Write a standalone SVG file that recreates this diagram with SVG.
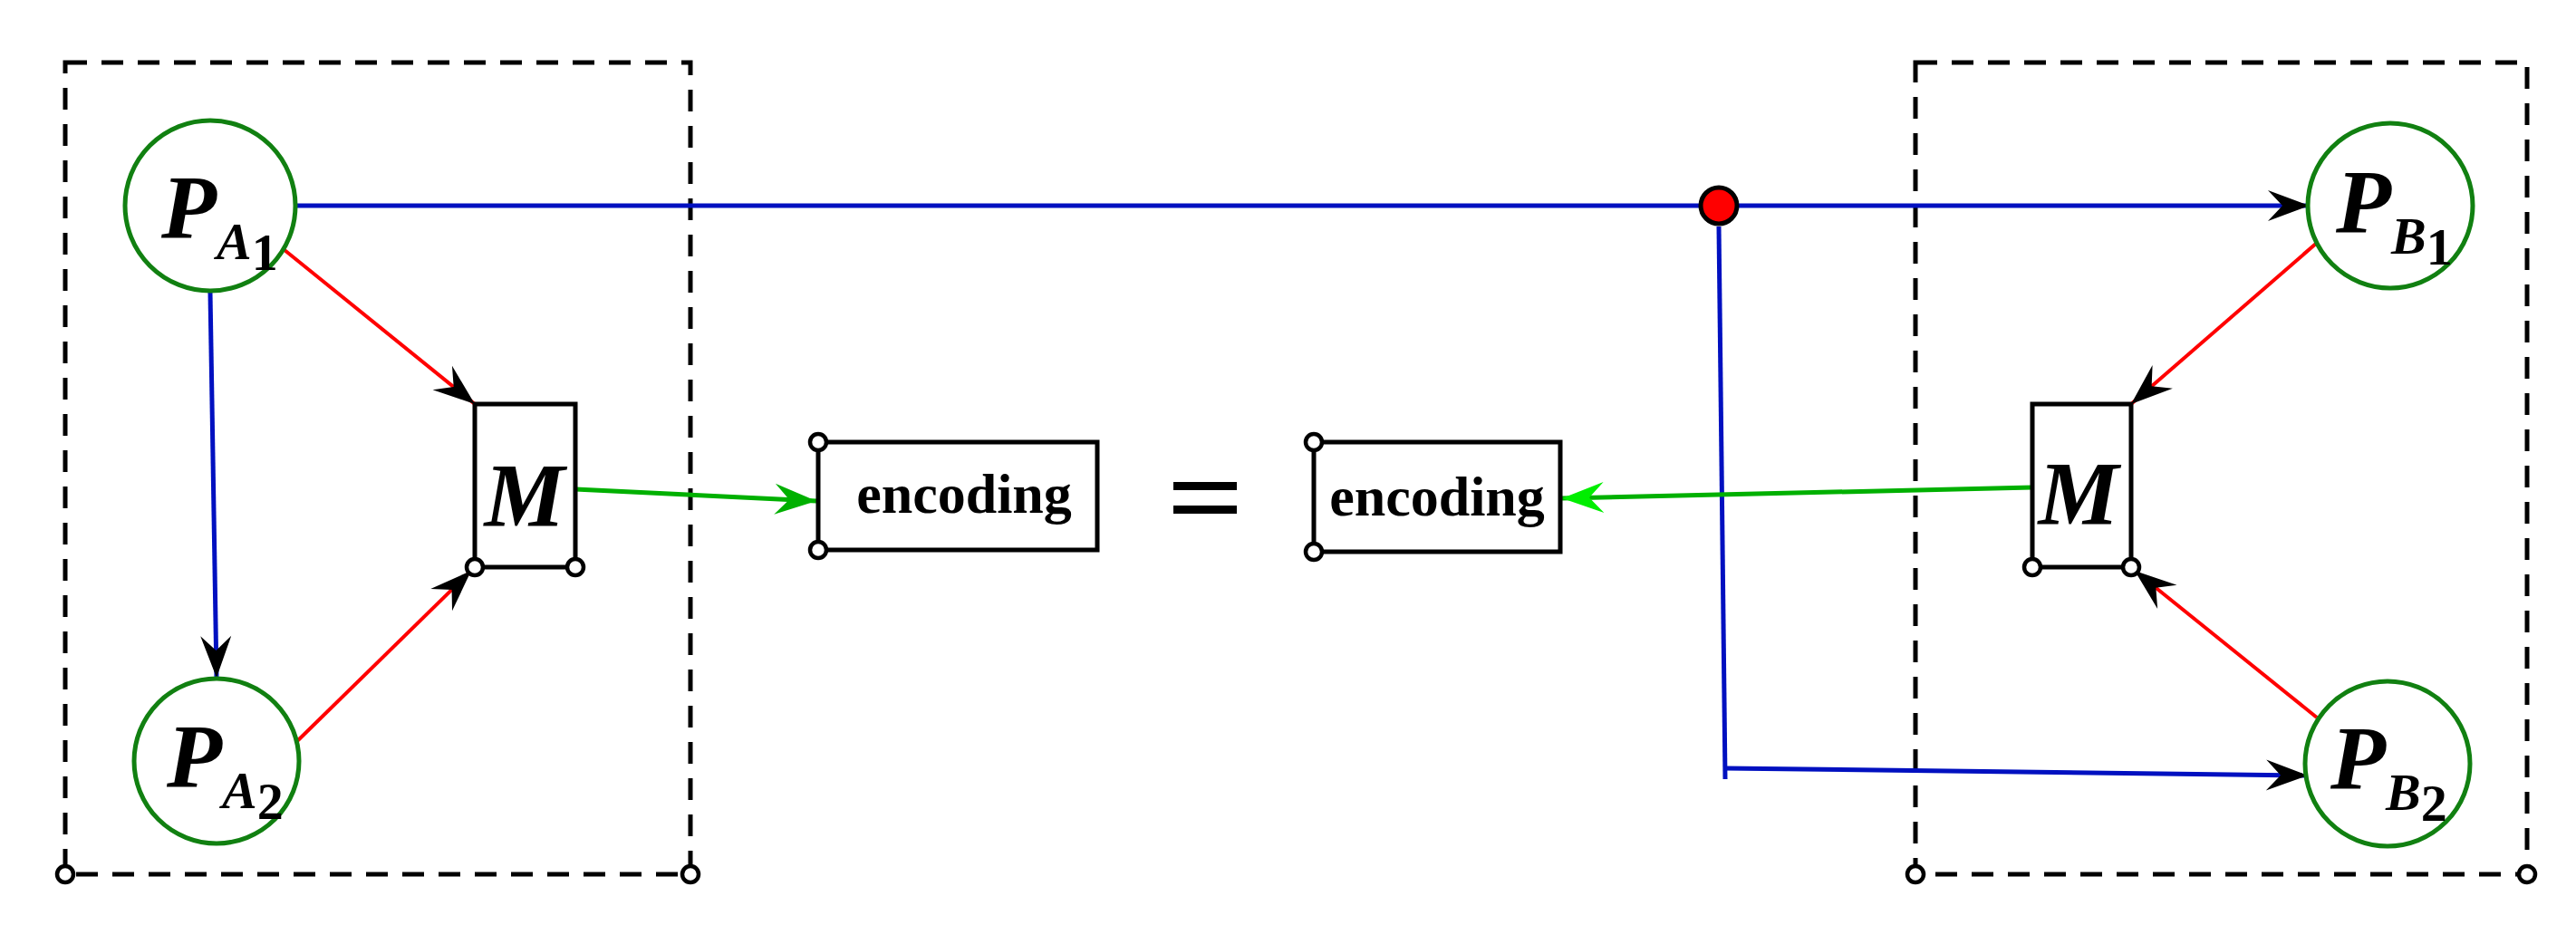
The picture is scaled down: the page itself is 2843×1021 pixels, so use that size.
<svg xmlns="http://www.w3.org/2000/svg" width="2843" height="1021" viewBox="0 0 2843 1021">
<style>
.dash{fill:none;stroke:#000;stroke-width:5;stroke-dasharray:24,16}
.node{fill:#fff;stroke:#118011;stroke-width:5}
.box{fill:#fff;stroke:#000;stroke-width:5}
.pin{fill:#fff;stroke:#000;stroke-width:4.5}
.blue{stroke:#0010c0;stroke-width:5;fill:none}
.red{stroke:#ff0000;stroke-width:4;fill:none}
.green{stroke:#00b000;stroke-width:5;fill:none}
.p{font-family:"Liberation Serif",serif;font-style:italic;font-weight:bold;font-size:100px}
.s{font-family:"Liberation Serif",serif;font-style:italic;font-weight:bold;font-size:58px}
.d{font-family:"Liberation Serif",serif;font-style:normal;font-weight:bold;font-size:58px}
.enc{font-family:"Liberation Serif",serif;font-weight:bold;font-size:62px}
</style>
<defs>
<marker id="ab" markerUnits="userSpaceOnUse" markerWidth="60" markerHeight="40" viewBox="-50 -20 60 40" refX="0" refY="0" orient="auto"><path d="M0,0 L-46,-17 L-30,0 L-46,17 Z" fill="#000"/></marker>
<marker id="ag" markerUnits="userSpaceOnUse" markerWidth="60" markerHeight="40" viewBox="-50 -20 60 40" refX="0" refY="0" orient="auto"><path d="M0,0 L-46,-17 L-30,0 L-46,17 Z" fill="#00b000"/></marker>
<marker id="alg" markerUnits="userSpaceOnUse" markerWidth="60" markerHeight="40" viewBox="-50 -20 60 40" refX="0" refY="0" orient="auto"><path d="M0,0 L-46,-17 L-30,0 L-46,17 Z" fill="#00ee00"/></marker>
</defs>
<g id="groupA">
<rect class="dash" x="72" y="69" width="690" height="896"/>
<circle class="pin" cx="72" cy="965" r="9"/><circle class="pin" cx="762" cy="965" r="9"/>
</g>
<g id="groupB">
<rect class="dash" x="2114" y="69" width="675" height="896"/>
<circle class="pin" cx="2114" cy="965" r="9"/><circle class="pin" cx="2789" cy="965" r="9"/>
</g>
<g id="connectors">
<line class="blue" x1="326" y1="227" x2="2549" y2="227" marker-end="url(#ab)"/>
<polyline class="blue" points="1897,250 1904,860"/>
<line class="blue" x1="1904" y1="848" x2="2547" y2="856" marker-end="url(#ab)"/>
<line class="blue" x1="232" y1="323" x2="239" y2="748" marker-end="url(#ab)"/>
<line class="red" x1="314" y1="276" x2="524" y2="446" marker-end="url(#ab)"/>
<line class="red" x1="326" y1="820" x2="520" y2="630" marker-end="url(#ab)"/>
<line class="red" x1="2557" y1="268" x2="2352" y2="446" marker-end="url(#ab)"/>
<line class="red" x1="2557" y1="792" x2="2356" y2="630" marker-end="url(#ab)"/>
<line class="green" x1="635" y1="540" x2="901" y2="553" marker-end="url(#ag)"/>
<line class="green" x1="2243" y1="538" x2="1724" y2="550" marker-end="url(#alg)"/>
<circle cx="1897" cy="227" r="20" fill="#ff0000" stroke="#000" stroke-width="5"/>
</g>
<g id="PA1"><circle class="node" cx="232" cy="227" r="94"/><text class="p" x="178" y="262">P<tspan class="s" dy="24">A</tspan><tspan class="d" dy="12">1</tspan></text></g>
<g id="PA2"><circle class="node" cx="239" cy="840" r="91"/><text class="p" x="184" y="868">P<tspan class="s" dy="24">A</tspan><tspan class="d" dy="12">2</tspan></text></g>
<g id="PB1"><circle class="node" cx="2638" cy="227" r="91"/><text class="p" x="2578" y="256">P<tspan class="s" dy="24">B</tspan><tspan class="d" dy="12">1</tspan></text></g>
<g id="PB2"><circle class="node" cx="2635" cy="843" r="91"/><text class="p" x="2572" y="870">P<tspan class="s" dy="24">B</tspan><tspan class="d" dy="12">2</tspan></text></g>
<g id="MA"><rect class="box" x="524" y="446" width="111" height="180"/><text class="p" x="579" y="580" text-anchor="middle" font-size="105">M</text><circle class="pin" cx="524" cy="626" r="9"/><circle class="pin" cx="635" cy="626" r="9"/></g>
<g id="MB"><rect class="box" x="2243" y="446" width="109" height="180"/><text class="p" x="2294" y="578" text-anchor="middle" font-size="105">M</text><circle class="pin" cx="2243" cy="626" r="9"/><circle class="pin" cx="2352" cy="626" r="9"/></g>
<g id="encA"><rect class="box" x="903" y="488" width="308" height="119"/><text class="enc" x="1064" y="566" text-anchor="middle">encoding</text><circle class="pin" cx="903" cy="488" r="9"/><circle class="pin" cx="903" cy="607" r="9"/></g>
<g id="eq"><rect x="1295" y="532" width="70" height="9" fill="#000"/><rect x="1295" y="558" width="70" height="9" fill="#000"/></g>
<g id="encB"><rect class="box" x="1450" y="488" width="272" height="121"/><text class="enc" x="1586" y="569" text-anchor="middle">encoding</text><circle class="pin" cx="1450" cy="488" r="9"/><circle class="pin" cx="1450" cy="609" r="9"/></g>
</svg>
